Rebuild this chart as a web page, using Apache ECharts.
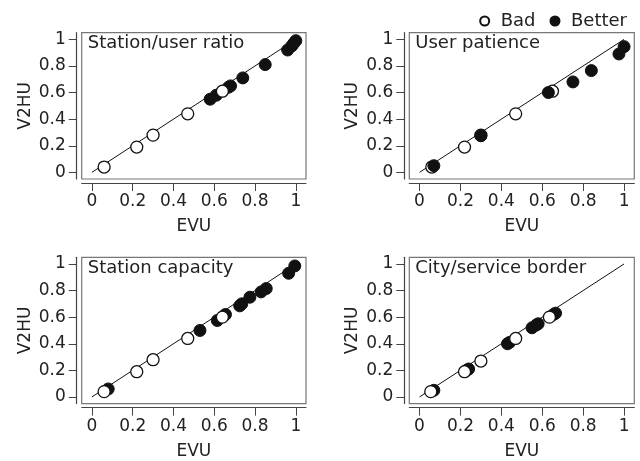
<!DOCTYPE html>
<html>
<head>
<meta charset="utf-8">
<script src="https://cdn.jsdelivr.net/npm/echarts@6/dist/echarts.min.js"></script>
<style>html,body{margin:0;padding:0;background:#fff}#c{width:640px;height:461px}</style>
</head>
<body>
<div id="c"></div>
<script>
const tickValues = [0, 0.2, 0.4, 0.6, 0.8, 1];
const panelTitles = ['Station/user ratio', 'User patience', 'Station capacity', 'City/service border'];
const xName = 'EVU';
const yName = 'V2HU';
const seriesNames = ['Bad', 'Better'];
const refLine = [[0, 0], [1, 1]];

const ratioBad = [[0.06, 0.04], [0.22, 0.19], [0.30, 0.28], [0.47, 0.44], [0.64, 0.61]];
const ratioBetter = [[0.58, 0.55], [0.61, 0.58], [0.67, 0.64], [0.68, 0.65], [0.74, 0.71], [0.85, 0.81], [0.96, 0.92], [0.98, 0.95], [0.99, 0.97], [1.0, 0.99]];

const patienceBad = [[0.06, 0.04], [0.22, 0.19], [0.30, 0.28], [0.47, 0.44], [0.65, 0.61]];
const patienceBetter = [[0.07, 0.05], [0.30, 0.275], [0.63, 0.60], [0.75, 0.68], [0.84, 0.765], [0.975, 0.89], [1.0, 0.945]];

const capacityBad = [[0.06, 0.04], [0.22, 0.19], [0.30, 0.28], [0.47, 0.44], [0.64, 0.60]];
const capacityBetter = [[0.08, 0.06], [0.53, 0.50], [0.615, 0.575], [0.655, 0.62], [0.725, 0.685], [0.735, 0.70], [0.775, 0.75], [0.83, 0.79], [0.855, 0.815], [0.965, 0.93], [0.995, 0.985]];

const borderBad = [[0.055, 0.04], [0.22, 0.19], [0.30, 0.27], [0.47, 0.44], [0.635, 0.60]];
const borderBetter = [[0.07, 0.05], [0.23, 0.20], [0.24, 0.21], [0.43, 0.40], [0.44, 0.41], [0.55, 0.52], [0.57, 0.54], [0.58, 0.55], [0.655, 0.62], [0.665, 0.63]];

const panelBad = [ratioBad, patienceBad, capacityBad, borderBad];
const panelBetter = [ratioBetter, patienceBetter, capacityBetter, borderBetter];
const betterOnTop = [false, true, false, false];

const FONT = 'DejaVu Sans';
const TXT = '#222';
const grids = [
  {left: 81.7, top: 32.7, width: 224.3, height: 146.3},
  {left: 409.3, top: 32.7, width: 225, height: 146.3},
  {left: 81.7, top: 257.3, width: 224.3, height: 146.3},
  {left: 409.3, top: 257.3, width: 225, height: 146.3}
];

const option = {
  animation: false,
  textStyle: {fontFamily: FONT},
  legend: {
    data: seriesNames,
    right: 13, top: 12,
    itemWidth: 22, itemHeight: 9, itemGap: 14,
    textStyle: {fontFamily: FONT, fontSize: 18, color: TXT},
    padding: 0
  },
  title: panelTitles.map((t, i) => ({
    text: t, left: grids[i].left + 6, top: grids[i].top + 2, padding: 0,
    textStyle: {fontFamily: FONT, fontSize: 18, fontWeight: 'normal', color: TXT}
  })),
  grid: grids.map(g => Object.assign({show: true, borderColor: '#777', borderWidth: 1.2, backgroundColor: 'transparent'}, g)),
  xAxis: grids.map((g, i) => ({
    gridIndex: i, type: 'value', min: -0.05, max: 1.05,
    offset: 4,
    name: xName, nameLocation: 'middle', nameGap: 35,
    nameTextStyle: {fontFamily: FONT, fontSize: 17, color: TXT},
    axisLine: {show: true, onZero: false, lineStyle: {color: '#444', width: 1.2}},
    axisTick: {show: true, customValues: tickValues, length: 8, lineStyle: {color: '#444'}},
    axisLabel: {customValues: tickValues, margin: 10, fontFamily: FONT, fontSize: 17, color: TXT},
    splitLine: {show: false}
  })),
  yAxis: grids.map((g, i) => ({
    gridIndex: i, type: 'value', min: -0.05, max: 1.05,
    offset: 5,
    name: yName, nameLocation: 'middle', nameGap: 43,
    nameTextStyle: {fontFamily: FONT, fontSize: 17, color: TXT},
    axisLine: {show: true, onZero: false, lineStyle: {color: '#444', width: 1.2}},
    axisTick: {show: true, customValues: tickValues, length: 8, lineStyle: {color: '#444'}},
    axisLabel: {customValues: tickValues, margin: 11, fontFamily: FONT, fontSize: 17, color: TXT},
    splitLine: {show: false}
  })),
  series: []
};

for (let i = 0; i < 4; i++) {
  option.series.push({
    type: 'line', xAxisIndex: i, yAxisIndex: i, data: refLine,
    showSymbol: false, silent: true, z: 1,
    lineStyle: {color: '#111', width: 1}
  });
  option.series.push({
    name: 'Bad', type: 'scatter', xAxisIndex: i, yAxisIndex: i, data: panelBad[i],
    symbolSize: 12, z: betterOnTop[i] ? 2 : 4,
    itemStyle: {color: '#fff', borderColor: '#111', borderWidth: 1.3, opacity: 1}
  });
  option.series.push({
    name: 'Better', type: 'scatter', xAxisIndex: i, yAxisIndex: i, data: panelBetter[i],
    symbolSize: 12, z: 3,
    itemStyle: {color: '#111', borderColor: '#111', borderWidth: 1, opacity: 1}
  });
}

const chart = echarts.init(document.getElementById('c'), null, {renderer: 'canvas'});
chart.setOption(option);
</script>
</body>
</html>
